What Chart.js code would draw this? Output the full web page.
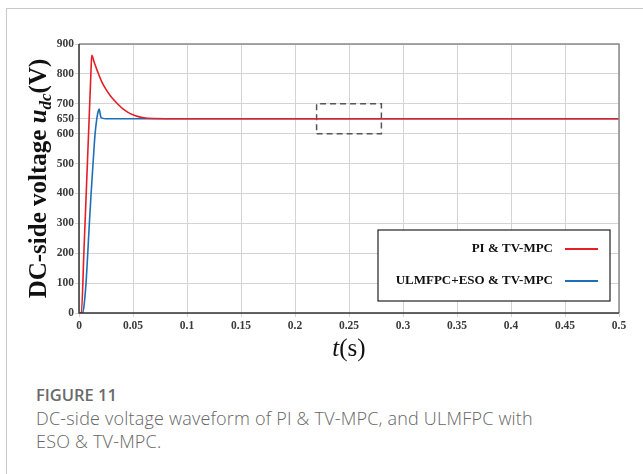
<!DOCTYPE html>
<html>
<head>
<meta charset="utf-8">
<script src="https://cdn.jsdelivr.net/npm/chart.js@4.4.1/dist/chart.umd.min.js"></script>
<style>
  html, body { margin: 0; padding: 0; background: #fff; }
  #fig { position: relative; width: 643px; height: 474px; overflow: hidden; }
  #frame { position: absolute; left: 6px; top: 8px; width: 650px; height: 480px;
           border-left: 1px solid #c8c8c8; border-top: 1px solid #c8c8c8; }
  #wrap { position: absolute; left: 0; top: 0; width: 643px; height: 375px; }
  #cap { position: absolute; left: 36px; top: 383px; font-family: "Open Sans", sans-serif;
         color: #666; font-size: 18px; line-height: 23px; font-weight: 300; letter-spacing: 0.2px; }
  #cap b { display: block; font-weight: 600; font-size: 16.5px; color: #6a6a6a; line-height: 24px; letter-spacing: 0; }
</style>
</head>
<body>
<div id="fig">
  <div id="frame"></div>
  <div id="wrap"><canvas id="chart"></canvas></div>
  <div id="cap"><b>FIGURE 11</b>DC-side voltage waveform of PI &amp; TV-MPC, and ULMFPC with<br>ESO &amp; TV-MPC.</div>
</div>
<script>
// PI & TV-MPC (red)
var piT = [0, 0.0022, 0.0045, 0.007, 0.0095, 0.011, 0.0118, 0.014, 0.0175, 0.021, 0.025, 0.029, 0.033, 0.037, 0.041, 0.045, 0.050, 0.055, 0.060, 0.070, 0.080, 0.5]
var piV = [0, 0, 200, 430, 660, 800, 862, 840, 805, 774, 748, 727, 710, 695, 682, 672, 663, 657, 653, 650.5, 650, 650]

// ULMFPC+ESO & TV-MPC (blue)
var esoT = [0, 0.003, 0.0045, 0.0065, 0.0096, 0.0112, 0.013, 0.0149, 0.0165, 0.0178, 0.0187, 0.0193, 0.0202, 0.0215, 0.025, 0.5]
var esoV = [0, 0, 20, 100, 300, 400, 500, 600, 650, 675, 682, 672, 656, 652, 650, 650]

// dashed zoom box
var boxT = [0.22, 0.28, 0.28, 0.22, 0.22]
var boxV = [600, 600, 700, 700, 600]

var xTicks = [0, 0.05, 0.1, 0.15, 0.2, 0.25, 0.3, 0.35, 0.4, 0.45, 0.5]
var yTicks = [0, 100, 200, 300, 400, 500, 600, 650, 700, 800, 900]

var legendNames = ['PI & TV-MPC', 'ULMFPC+ESO & TV-MPC']
var legendColors = ['#e41f26', '#1f6fb8']

function pts(xs, ys) {
    return xs.map(function (x, i) { return { x: x, y: ys[i] } })
}

var serif = '"Liberation Serif", "Times New Roman", serif'

var decorPlugin = {
    id: 'decor',
    afterDraw: function (chart) {
        var ctx = chart.ctx
        var a = chart.chartArea
        ctx.save()
        // box around plot
        ctx.lineWidth = 1.5
        ctx.strokeStyle = '#8a8a8a'
        ctx.beginPath()
        ctx.moveTo(a.left, a.top); ctx.lineTo(a.right, a.top); ctx.lineTo(a.right, a.bottom)
        ctx.stroke()
        ctx.strokeStyle = '#333'
        ctx.beginPath()
        ctx.moveTo(a.left, a.top); ctx.lineTo(a.left, a.bottom); ctx.lineTo(a.right, a.bottom)
        ctx.stroke()

        // legend box
        var bx1 = a.left + 299, by1 = a.top + 186, bx2 = a.right - 9, by2 = a.bottom - 12
        ctx.fillStyle = '#fff'
        ctx.fillRect(bx1, by1, bx2 - bx1, by2 - by1)
        ctx.lineWidth = 1.2
        ctx.strokeStyle = '#222'
        ctx.strokeRect(bx1, by1, bx2 - bx1, by2 - by1)
        ctx.font = 'bold 13px ' + serif
        ctx.textAlign = 'right'
        ctx.textBaseline = 'middle'
        var rows = [by1 + 19, by1 + 51]
        legendNames.forEach(function (n, i) {
            ctx.fillStyle = '#111'
            ctx.fillText(n, bx2 - 57, rows[i])
            ctx.strokeStyle = legendColors[i]
            ctx.lineWidth = 2
            ctx.beginPath()
            ctx.moveTo(bx2 - 45, rows[i]); ctx.lineTo(bx2 - 12, rows[i])
            ctx.stroke()
        })

        // x title t(s)
        ctx.fillStyle = '#111'
        ctx.textBaseline = 'alphabetic'
        ctx.textAlign = 'left'
        var cx = (a.left + a.right) / 2
        ctx.font = 'italic 25px ' + serif
        var w1 = ctx.measureText('t').width
        ctx.font = '25px ' + serif
        var w2 = ctx.measureText('(s)').width
        var sx = cx - (w1 + w2) / 2
        ctx.font = 'italic 25px ' + serif
        ctx.fillText('t', sx, 356)
        ctx.font = '25px ' + serif
        ctx.fillText('(s)', sx + w1, 356)

        // y title
        ctx.translate(46, (a.top + a.bottom) / 2)
        ctx.rotate(-Math.PI / 2)
        var parts = [
            { t: 'DC-side voltage ', f: 'bold 25px ' + serif, dy: 0 },
            { t: 'u', f: 'bold italic 25px ' + serif, dy: 0 },
            { t: 'dc', f: 'bold italic 17px ' + serif, dy: 5 },
            { t: '(V)', f: 'bold 25px ' + serif, dy: 0 }
        ]
        var total = 0
        parts.forEach(function (p) { ctx.font = p.f; p.w = ctx.measureText(p.t).width; total += p.w })
        var px = -total / 2
        parts.forEach(function (p) {
            ctx.font = p.f
            ctx.fillText(p.t, px, p.dy)
            px += p.w
        })
        ctx.restore()
    }
}

var chart = new Chart(
    document.getElementById('chart'),
    {
        type: 'scatter',
        data: {
            datasets: [
                {
                    label: legendNames[0],
                    data: pts(piT, piV),
                    showLine: true,
                    borderColor: legendColors[0],
                    borderWidth: 1.6,
                    pointRadius: 0,
                    cubicInterpolationMode: 'monotone',
                },
                {
                    label: legendNames[1],
                    data: pts(esoT, esoV),
                    showLine: true,
                    borderColor: legendColors[1],
                    borderWidth: 1.6,
                    pointRadius: 0,
                    cubicInterpolationMode: 'monotone',
                },
                {
                    label: 'box',
                    data: pts(boxT, boxV),
                    showLine: true,
                    borderColor: '#555',
                    borderWidth: 1.5,
                    borderDash: [6, 4],
                    pointRadius: 0,
                },
            ]
        },
        options: {
            responsive: true,
            maintainAspectRatio: false,
            animation: false,
            layout: { padding: { top: 44, right: 24, left: 0, bottom: 0 } },
            plugins: {
                legend: { display: false },
                tooltip: { enabled: false },
            },
            scales: {
                x: {
                    type: 'linear',
                    min: 0,
                    max: 0.5,
                    afterBuildTicks: function (s) { s.ticks = xTicks.map(function (v) { return { value: v } }) },
                    afterFit: function (s) { s.height = 62 },
                    grid: { color: '#d4d4d4', lineWidth: 1, tickLength: 4 },
                    border: { display: false },
                    ticks: {
                        autoSkip: false,
                        maxRotation: 0,
                        padding: 2,
                        color: '#3a3a3a',
                        font: { family: serif, weight: 'bold', size: 11.5 },
                        callback: function (v) { return String(v) },
                    },
                },
                y: {
                    min: 0,
                    max: 900,
                    afterBuildTicks: function (s) { s.ticks = yTicks.map(function (v) { return { value: v } }) },
                    afterFit: function (s) { s.width = 79 },
                    grid: { color: '#d4d4d4', lineWidth: 1, tickLength: 4 },
                    border: { display: false },
                    ticks: {
                        autoSkip: false,
                        padding: 1,
                        color: '#3a3a3a',
                        font: { family: serif, weight: 'bold', size: 11.5 },
                    },
                },
            }
        },
        plugins: [decorPlugin]
    }
);
</script>
</body>
</html>
